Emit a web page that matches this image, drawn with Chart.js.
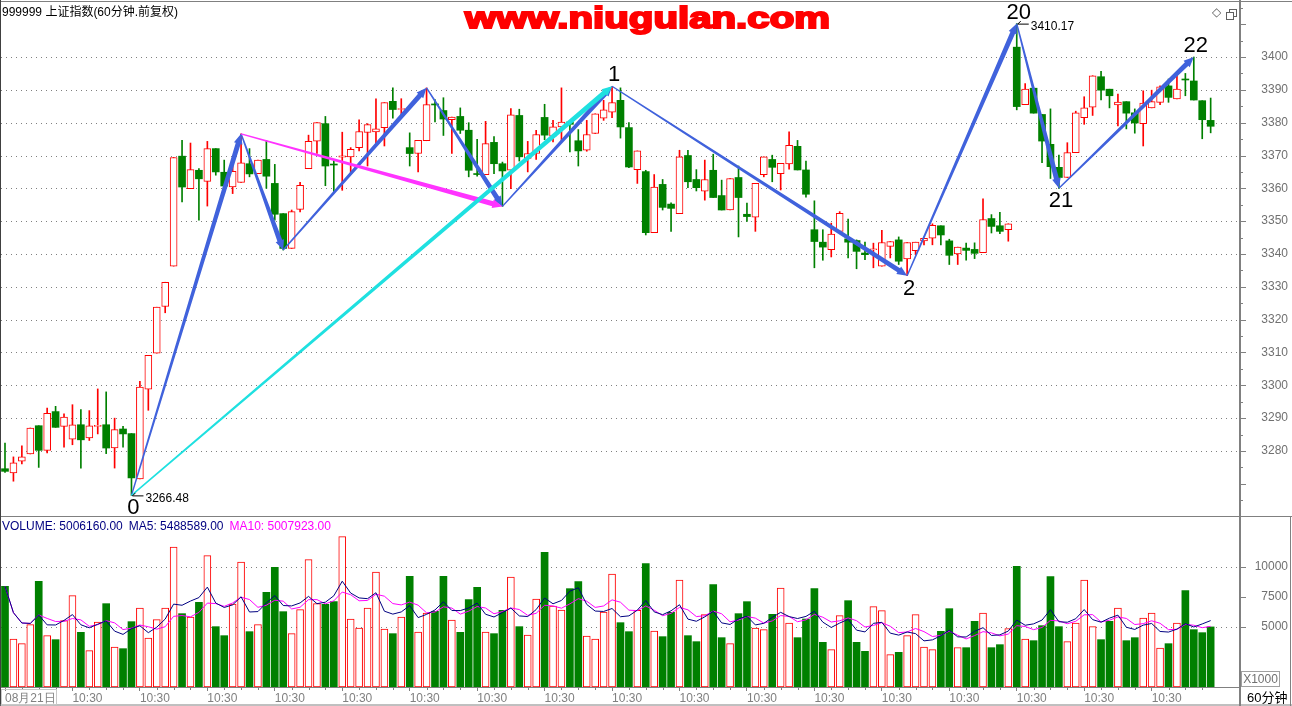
<!DOCTYPE html>
<html>
<head>
<meta charset="utf-8">
<title>上证指数 60分钟</title>
<script src="https://cdn.jsdelivr.net/npm/chart.js@4.4.1/dist/chart.umd.min.js"></script>
<style>
  body { margin: 0; background: #fff; font-family: 'Liberation Sans', Arial, 'Noto Sans CJK SC', sans-serif; }
  #page { position: relative; width: 1292px; height: 706px; overflow: hidden; background: #fff; }
  canvas { position: absolute; left: 0; }
  #price { top: 0; }
  #vol { top: 517px; }
  .txt { position: absolute; white-space: nowrap; }
  #title { left: 2px; top: 4px; font-size: 12px; line-height: 16px; color: #000; }
  #wm { left: 465px; top: 3px; font-size: 30px; line-height: 30px; font-weight: bold; color: #ff0000;
        -webkit-text-stroke: 2px #ff0000; transform-origin: 0 0; }
  #volHead { left: 2px; top: 519px; font-size: 12px; line-height: 14px; }
  #volHead span + span { margin-left: 6px; }
  #x1000 { left: 1241px; top: 671px; width: 37px; height: 14px; border: 1px solid #a0a0a0;
           font-size: 12px; line-height: 14px; color: #707070; text-align: center; }
  #period { left: 1247px; top: 690px; font-size: 13px; line-height: 15px; color: #000; }
  #dateBox { left: 1px; top: 689px; width: 54px; height: 14px; border: 1px solid #c8c8c8; }
  #icons { left: 1212px; top: 5px; font-size: 12px; line-height: 14px; color: #606060; font-family: 'DejaVu Sans', sans-serif; }
  .sq { position: absolute; width: 6px; height: 6px; border: 1px solid #606060; background: #fff; }
</style>
</head>
<body>
<div id="page">
  <canvas id="price" width="1292" height="517"></canvas>
  <canvas id="vol" width="1292" height="189"></canvas>
  <div id="title" class="txt">999999 上证指数(60分钟.前复权)</div>
  <div id="wm" class="txt">www.niugulan.com</div>
  <div id="icons" class="txt">◇</div>
  <div class="sq" style="left:1229px;top:9px"></div>
  <div class="sq" style="left:1226px;top:12px"></div>
  <div id="volHead" class="txt"><span style="color:#000080">VOLUME: 5006160.00</span><span style="color:#000080">MA5: 5488589.00</span><span style="color:#ff00ff">MA10: 5007923.00</span></div>
  <div id="x1000" class="txt">X1000</div>
  <div id="period" class="txt">60分钟</div>
  <div id="dateBox" class="txt"></div>
</div>
<script>
// 60-minute bars, 08-21 onwards
const openP = [
  3274.6, 3273.3, 3276.9, 3279.1, 3287.7, 3280.2, 3292.0, 3287.5, 3283.6, 3288.0,
  3284.0, 3287.5, 3288.0, 3280.9, 3286.7, 3285.3, 3271.5, 3298.8, 3309.8, 3324.0,
  3336.3, 3369.8, 3359.9, 3365.5, 3362.1, 3372.1, 3364.9, 3360.4, 3361.8, 3367.5,
  3364.5, 3368.8, 3361.5, 3352.3, 3341.7, 3353.6, 3366.0, 3374.4, 3379.7, 3367.3,
  3369.5, 3369.6, 3372.4, 3377.0, 3377.2, 3378.5, 3386.5, 3384.0, 3372.4, 3370.6,
  3374.5, 3385.6, 3383.7, 3380.9, 3381.9, 3377.7, 3364.4, 3364.2, 3374.0, 3367.5,
  3365.5, 3382.2, 3369.1, 3370.6, 3381.6, 3375.9, 3378.7, 3380.2, 3374.5, 3371.6,
  3376.7, 3381.4, 3383.2, 3386.8, 3378.5, 3365.7, 3365.1, 3346.5, 3361.2, 3355.2,
  3352.3, 3370.0, 3362.7, 3359.1, 3365.5, 3357.8, 3353.4, 3363.3, 3352.1, 3351.2,
  3364.2, 3368.8, 3364.5, 3367.4, 3372.8, 3365.6, 3347.4, 3343.6, 3341.3, 3346.9,
  3344.6, 3344.1, 3340.3, 3341.3, 3336.3, 3342.3, 3344.3, 3338.5, 3341.0, 3344.0,
  3344.8, 3348.6, 3344.0, 3340.0, 3341.8, 3341.4, 3340.4, 3350.8, 3348.6, 3347.4,
  3403.0, 3385.5, 3390.5, 3382.5, 3373.4, 3366.4, 3363.3, 3370.9, 3381.5, 3384.7,
  3394.0, 3390.2, 3385.4, 3386.4, 3383.0, 3379.7, 3384.5, 3386.2, 3391.2, 3387.2,
  3393.2, 3392.7, 3386.7, 3380.7
];
const highP = [
  3282.4, 3278.2, 3281.6, 3287.0, 3287.7, 3293.1, 3293.6, 3291.3, 3294.1, 3292.6,
  3292.3, 3298.9, 3298.0, 3290.0, 3287.5, 3285.3, 3301.2, 3309.1, 3323.8, 3331.4,
  3369.4, 3374.6, 3373.8, 3366.0, 3374.3, 3372.1, 3368.6, 3369.1, 3376.6, 3372.1,
  3368.6, 3374.6, 3367.3, 3352.3, 3353.4, 3361.8, 3376.2, 3380.0, 3381.9, 3368.8,
  3377.1, 3372.4, 3380.9, 3379.7, 3387.3, 3386.1, 3390.6, 3387.3, 3376.9, 3374.6,
  3390.6, 3387.0, 3387.6, 3381.7, 3384.5, 3380.0, 3374.9, 3380.4, 3375.8, 3368.0,
  3384.3, 3384.1, 3374.3, 3377.7, 3385.6, 3380.7, 3390.6, 3380.7, 3377.9, 3380.7,
  3382.7, 3386.8, 3391.1, 3390.6, 3380.0, 3371.4, 3365.5, 3364.2, 3362.7, 3355.6,
  3371.6, 3371.6, 3365.7, 3368.6, 3370.4, 3362.5, 3363.0, 3366.8, 3355.5, 3361.5,
  3369.6, 3370.1, 3367.6, 3377.2, 3374.6, 3368.3, 3356.2, 3347.4, 3349.4, 3352.9,
  3350.6, 3344.3, 3343.6, 3343.3, 3347.2, 3343.8, 3345.2, 3343.5, 3343.6, 3344.8,
  3349.2, 3348.6, 3344.5, 3342.1, 3343.3, 3343.4, 3356.8, 3352.0, 3352.7, 3349.2,
  3410.17, 3391.9, 3390.5, 3382.5, 3384.2, 3370.1, 3373.9, 3383.5, 3387.9, 3394.3,
  3395.6, 3390.2, 3388.7, 3386.4, 3384.2, 3389.7, 3389.9, 3391.2, 3393.3, 3394.8,
  3395.0, 3400.0, 3386.7, 3387.5
];
const lowP = [
  3273.5, 3270.8, 3276.1, 3279.1, 3275.0, 3279.4, 3287.2, 3281.2, 3281.9, 3274.8,
  3283.2, 3285.2, 3279.2, 3274.8, 3281.2, 3266.48, 3271.5, 3292.4, 3309.8, 3322.1,
  3336.3, 3355.9, 3359.9, 3350.3, 3354.6, 3364.0, 3358.4, 3358.4, 3361.8, 3363.5,
  3364.5, 3360.0, 3350.3, 3341.2, 3341.7, 3352.8, 3366.0, 3370.6, 3360.8, 3358.9,
  3359.4, 3364.8, 3371.4, 3366.8, 3373.4, 3372.9, 3381.4, 3382.2, 3366.8, 3365.0,
  3374.5, 3380.2, 3376.1, 3370.6, 3376.7, 3363.5, 3363.7, 3364.2, 3364.5, 3354.5,
  3359.9, 3368.3, 3365.0, 3368.8, 3374.8, 3374.1, 3374.1, 3371.1, 3366.8, 3371.3,
  3376.7, 3380.7, 3381.5, 3375.3, 3366.3, 3361.5, 3345.8, 3346.5, 3353.4, 3346.9,
  3352.3, 3360.2, 3359.2, 3356.4, 3357.2, 3353.4, 3353.4, 3345.2, 3349.9, 3346.9,
  3363.5, 3362.0, 3359.5, 3365.8, 3365.6, 3357.3, 3335.8, 3338.1, 3339.1, 3346.9,
  3338.8, 3335.5, 3338.3, 3335.8, 3336.3, 3338.8, 3336.8, 3333.4, 3339.8, 3342.8,
  3342.8, 3342.8, 3336.8, 3336.8, 3338.1, 3338.6, 3340.4, 3346.4, 3346.2, 3343.9,
  3383.9, 3385.5, 3382.9, 3367.8, 3363.0, 3360.0, 3363.3, 3370.9, 3379.5, 3382.2,
  3386.9, 3384.5, 3379.0, 3378.1, 3376.8, 3372.9, 3384.5, 3385.5, 3386.2, 3387.2,
  3388.2, 3386.9, 3375.1, 3376.9
];
const closeP = [
  3273.8, 3276.4, 3278.2, 3287.0, 3280.2, 3291.5, 3287.2, 3290.3, 3288.0, 3283.4,
  3287.7, 3287.7, 3280.9, 3286.5, 3285.2, 3271.8, 3299.5, 3309.1, 3323.8, 3331.4,
  3369.4, 3360.4, 3365.7, 3362.9, 3372.1, 3365.0, 3360.7, 3365.2, 3367.8, 3364.4,
  3368.6, 3363.7, 3352.1, 3341.7, 3352.9, 3360.9, 3374.3, 3380.0, 3366.8, 3367.1,
  3369.9, 3371.9, 3377.3, 3379.4, 3378.1, 3386.1, 3384.0, 3384.3, 3370.6, 3374.6,
  3385.5, 3385.4, 3381.1, 3381.7, 3377.7, 3365.5, 3364.2, 3373.6, 3367.5, 3365.3,
  3382.4, 3369.6, 3370.6, 3376.4, 3376.2, 3378.7, 3380.2, 3379.5, 3371.4, 3376.4,
  3382.7, 3383.9, 3386.1, 3378.7, 3366.5, 3371.4, 3346.5, 3360.4, 3354.2, 3353.9,
  3369.6, 3362.0, 3360.2, 3362.7, 3357.2, 3353.4, 3363.0, 3357.2, 3351.4, 3361.5,
  3369.6, 3366.4, 3367.6, 3373.1, 3365.6, 3358.2, 3343.8, 3342.1, 3346.1, 3352.4,
  3343.6, 3340.8, 3339.8, 3341.6, 3343.5, 3343.8, 3337.8, 3343.5, 3343.6, 3344.8,
  3348.7, 3345.8, 3339.6, 3342.1, 3341.1, 3340.2, 3350.5, 3348.4, 3346.9, 3349.2,
  3384.9, 3390.2, 3382.9, 3374.4, 3366.6, 3363.3, 3370.9, 3383.0, 3384.5, 3394.3,
  3389.9, 3388.2, 3386.3, 3382.9, 3379.9, 3386.0, 3386.4, 3390.9, 3387.7, 3390.2,
  3393.0, 3386.9, 3380.9, 3378.9
];
// volume in units of 1000
const volume = [
  8389, 4000, 3611, 5195, 8806, 4278, 3945, 5528, 7612, 4556,
  3028, 5417, 6945, 3334, 3195, 5445, 6584, 4084, 5612, 6584,
  11668, 6112, 5834, 7056, 10945, 5028, 4278, 6917, 10418, 4611,
  5195, 7890, 9973, 6278, 4445, 6445, 10612, 6945, 6889, 7112,
  12529, 5667, 4917, 6584, 9584, 4834, 4445, 5834, 9223, 4584,
  6167, 6306, 9223, 5584, 4556, 7278, 8306, 4584, 4445, 6389,
  9167, 5028, 4334, 7334, 11223, 6751, 6417, 8195, 8778, 4250,
  4000, 6251, 9417, 5361, 4611, 6389, 10279, 4667, 4195, 6223,
  8917, 4278, 3778, 6028, 8528, 4111, 3611, 6112, 7112, 4917,
  4778, 6056, 8251, 5334, 4111, 5667, 8195, 3722, 3111, 5945,
  7195, 3722, 2972, 6695, 6362, 2695, 2889, 4278, 6028, 3334,
  3111, 4639, 6528, 3278, 3278, 5473, 6167, 3278, 3528, 4862,
  10056, 4000, 3861, 5111, 9195, 5028, 3778, 5334, 8917, 5028,
  3945, 5473, 6584, 3861, 4111, 5750, 6167, 3250, 3611, 5334,
  8028, 4778, 4528, 5006
];

const xTickIdx = [0, 8, 16, 24, 32, 40, 48, 56, 64, 72, 80, 88, 96, 104, 112, 120, 128, 136];
const xTickText = ['08月21日', '10:30', '10:30', '10:30', '10:30', '10:30', '10:30', '10:30', '10:30',
                   '10:30', '10:30', '10:30', '10:30', '10:30', '10:30', '10:30', '10:30', '10:30'];
const priceTicks = [3280, 3290, 3300, 3310, 3320, 3330, 3340, 3350, 3360, 3370, 3380, 3390, 3400];
const volTicks = [5000, 7500, 10000];

// wave turning points drawn by hand on the original
const waveIdx   = [15, 28, 33, 50, 59, 72, 107, 120, 125, 141];
const wavePrice = [3266.48, 3376.6, 3341.2, 3390.6, 3354.5, 3391.1, 3333.4, 3410.17, 3360.0, 3400.0];
const waveName  = ['0', '', '', '', '', '1', '2', '20', '21', '22'];
const legFrom = [0, 1, 2, 3, 4, 7, 6, 5, 8, 1, 0];
const legTo   = [1, 2, 3, 4, 5, 8, 7, 6, 9, 4, 5];
const priceTags = [[0, '3266.48'], [7, '3410.17']];

const RED = '#ff0000', GREEN = '#008000', AXIS = '#808080', LABEL = '#707070';
const BLUE = '#4062dc', MAGENTA = '#ff33ff', CYAN = '#1fe0e0';
const legColor = [BLUE, BLUE, BLUE, BLUE, BLUE, BLUE, BLUE, BLUE, BLUE, MAGENTA, CYAN];

const XMIN = -0.4745, XMAX = 146.48;
const isUp = i => closeP[i] > openP[i];

function movingAverage(arr, n) {
  return arr.map((_, i) => {
    const s = arr.slice(Math.max(0, i - n + 1), i + 1);
    return s.reduce((a, b) => a + b, 0) / s.length;
  });
}
const ma5 = movingAverage(volume, 5);
const ma10 = movingAverage(volume, 10);

Chart.defaults.font.family = "'Liberation Sans', Arial, sans-serif";
Chart.defaults.font.size = 12;

function dotted(ctx, x0, x1, y) {
  ctx.save();
  ctx.strokeStyle = AXIS;
  ctx.lineWidth = 1;
  ctx.setLineDash([1, 4]);
  ctx.beginPath();
  ctx.moveTo(x0, y);
  ctx.lineTo(x1, y);
  ctx.stroke();
  ctx.restore();
}

function line(ctx, x0, y0, x1, y1, color, w) {
  ctx.save();
  ctx.strokeStyle = color;
  ctx.lineWidth = w || 1;
  ctx.beginPath();
  ctx.moveTo(x0, y0);
  ctx.lineTo(x1, y1);
  ctx.stroke();
  ctx.restore();
}

// right-hand value labels, right aligned against the window edge
function axisLabels(ctx, scale, values) {
  ctx.save();
  ctx.font = "12px 'Liberation Sans', Arial, sans-serif";
  ctx.fillStyle = LABEL;
  ctx.textAlign = 'right';
  ctx.textBaseline = 'middle';
  values.forEach(v => ctx.fillText(String(v), 1288, scale.getPixelForValue(v)));
  ctx.restore();
}

// arrow that widens towards its head, like the drawing tool in the original
function taperArrow(ctx, x0, y0, x1, y1, color) {
  const dx = x1 - x0, dy = y1 - y0, len = Math.hypot(dx, dy);
  const ux = dx / len, uy = dy / len, nx = -uy, ny = ux;
  const head = 10, hw = 4.4, w0 = 0.7, w1 = 2.5;
  const bx = x1 - ux * head, by = y1 - uy * head;
  ctx.save();
  ctx.fillStyle = color;
  ctx.beginPath();
  ctx.moveTo(x0 + nx * w0, y0 + ny * w0);
  ctx.lineTo(bx + nx * w1, by + ny * w1);
  ctx.lineTo(bx + nx * hw, by + ny * hw);
  ctx.lineTo(x1, y1);
  ctx.lineTo(bx - nx * hw, by - ny * hw);
  ctx.lineTo(bx - nx * w1, by - ny * w1);
  ctx.lineTo(x0 - nx * w0, y0 - ny * w0);
  ctx.closePath();
  ctx.fill();
  ctx.restore();
}

const priceDecor = {
  id: 'priceDecor',
  beforeDatasetsDraw(chart) {
    const {ctx, chartArea: a, scales: {y}} = chart;
    priceTicks.forEach(v => dotted(ctx, a.left, a.right, Math.round(y.getPixelForValue(v)) + 0.5));
  },
  afterDatasetsDraw(chart) {
    const {ctx, scales: {x, y}} = chart;
    const px = k => x.getPixelForValue(waveIdx[k]);
    const py = k => y.getPixelForValue(wavePrice[k]);
    legFrom.forEach((f, j) => taperArrow(ctx, px(f), py(f), px(legTo[j]), py(legTo[j]), legColor[j]));

    ctx.save();
    ctx.fillStyle = '#000';
    ctx.font = "22px 'Liberation Sans', Arial, sans-serif";
    ctx.textAlign = 'center';
    ctx.textBaseline = 'middle';
    waveName.forEach((name, k) => {
      if (!name) return;
      const peak = highP[waveIdx[k]] === wavePrice[k];
      ctx.fillText(name, px(k) + 2, py(k) + (peak ? -11 : 13));
    });
    ctx.font = "12px 'Liberation Sans', Arial, sans-serif";
    ctx.textAlign = 'left';
    priceTags.forEach(([k, txt]) => {
      const x0 = px(k), y0 = py(k);
      line(ctx, x0 + 1, y0 + 0.5, x0 + 12, y0 + 0.5, '#000', 1);
      line(ctx, x0 + 1, y0 + 0.5, x0 + 4, y0 - 2.5, '#000', 1);
      ctx.fillText(txt, x0 + 14, y0 + 3);
    });
    ctx.restore();
  },
  afterDraw(chart) {
    const {ctx, chartArea: a, scales: {y}} = chart;
    for (let v = 3265; v <= 3415; v += 5) {
      const yy = Math.round(y.getPixelForValue(v)) + 0.5;
      line(ctx, a.right + 1, yy, a.right + (v % 10 === 0 ? 6 : 3), yy, AXIS, 1);
    }
    axisLabels(ctx, y, priceTicks);
    line(ctx, 0, 1.5, 1292, 1.5, AXIS, 1);
    line(ctx, 0, 516.5, 1292, 516.5, AXIS, 1);
    line(ctx, 0.5, 0, 0.5, 517, '#404040', 1);
    line(ctx, a.right, 0, a.right, 517, AXIS, 2);
  }
};

const volDecor = {
  id: 'volDecor',
  beforeDatasetsDraw(chart) {
    const {ctx, chartArea: a, scales: {y}} = chart;
    [5000, 10000].forEach(v => dotted(ctx, a.left, a.right, Math.round(y.getPixelForValue(v)) + 0.5));
  },
  afterDraw(chart) {
    const {ctx, chartArea: a, scales: {x, y}} = chart;
    volTicks.forEach(v => {
      const yy = Math.round(y.getPixelForValue(v)) + 0.5;
      line(ctx, a.right + 1, yy, a.right + 6, yy, AXIS, 1);
    });
    axisLabels(ctx, y, volTicks);
    for (let i = 2; i < 146; i += 2) {
      if (i % 8 === 0) continue;
      const xx = Math.round(x.getPixelForValue(i)) + 0.5;
      line(ctx, xx, a.bottom + 1, xx, a.bottom + 3, AXIS, 1);
    }
    line(ctx, 0.5, 0, 0.5, 189, '#404040', 1);
    line(ctx, 0, 188, 1292, 188, AXIS, 1);
    line(ctx, 1290.5, 0, 1290.5, 189, AXIS, 1);
    line(ctx, a.right, 0, a.right, 189, AXIS, 2);
  }
};

new Chart(document.getElementById('price'), {
  type: 'bar',
  data: {
    datasets: [
      {
        label: 'body',
        data: openP.map((o, i) => ({x: i, y: [o, closeP[i]]})),
        grouped: false,
        barThickness: 7,
        minBarLength: 1,
        borderSkipped: false,
        backgroundColor: c => isUp(c.dataIndex) ? '#ffffff' : GREEN,
        borderColor: c => isUp(c.dataIndex) ? RED : GREEN,
        borderWidth: c => isUp(c.dataIndex) ? 1 : 0,
        order: 0
      },
      {
        label: 'shadow',
        data: lowP.map((l, i) => ({x: i, y: [l, highP[i]]})),
        grouped: false,
        barThickness: 1,
        backgroundColor: c => isUp(c.dataIndex) ? RED : GREEN,
        borderWidth: 0,
        order: 1
      }
    ]
  },
  options: {
    responsive: false,
    animation: false,
    events: [],
    layout: {padding: {left: 1, top: 3, right: 0, bottom: 1}},
    plugins: {legend: {display: false}, tooltip: {enabled: false}},
    scales: {
      x: {type: 'linear', min: XMIN, max: XMAX, offset: false, grid: {offset: false}, display: false},
      y: {
        position: 'right',
        min: 3260.2,
        max: 3416.45,
        offset: false,
        afterFit: s => { s.width = 52; },
        afterBuildTicks: s => { s.ticks = priceTicks.map(v => ({value: v})); },
        grid: {drawOnChartArea: false, drawTicks: false},
        border: {color: AXIS, width: 2},
        ticks: {display: false, padding: 0}
      }
    }
  },
  plugins: [priceDecor]
});

new Chart(document.getElementById('vol'), {
  type: 'bar',
  data: {
    datasets: [
      {
        type: 'line',
        label: 'MA5',
        data: ma5.map((v, i) => ({x: i, y: v})),
        borderColor: '#000080',
        borderWidth: 1,
        pointRadius: 0,
        order: -2
      },
      {
        type: 'line',
        label: 'MA10',
        data: ma10.map((v, i) => ({x: i, y: v})),
        borderColor: '#ff00ff',
        borderWidth: 1,
        pointRadius: 0,
        order: -1
      },
      {
        label: 'VOLUME',
        data: volume.map((v, i) => ({x: i, y: v})),
        grouped: false,
        barThickness: 7,
        borderSkipped: false,
        backgroundColor: c => isUp(c.dataIndex) ? '#ffffff' : GREEN,
        borderColor: c => isUp(c.dataIndex) ? RED : GREEN,
        borderWidth: c => isUp(c.dataIndex) ? 1 : 0,
        order: 0
      }
    ]
  },
  options: {
    responsive: false,
    animation: false,
    events: [],
    layout: {padding: {left: 1, top: 1, right: 0, bottom: 0}},
    plugins: {legend: {display: false}, tooltip: {enabled: false}},
    scales: {
      x: {
        type: 'linear',
        min: XMIN,
        max: XMAX,
        offset: false,
        position: 'bottom',
        afterFit: s => { s.height = 19; },
        afterBuildTicks: s => { s.ticks = xTickIdx.map(v => ({value: v})); },
        grid: {offset: false, drawOnChartArea: false, drawTicks: true, tickLength: 4, color: AXIS},
        border: {color: AXIS, width: 1},
        ticks: {
          autoSkip: false, maxRotation: 0, minRotation: 0, align: 'start', padding: 0, color: '#808080',
          callback: v => xTickText[xTickIdx.indexOf(v)]
        }
      },
      y: {
        position: 'right',
        min: 0,
        max: 14083,
        offset: false,
        afterFit: s => { s.width = 52; },
        afterBuildTicks: s => { s.ticks = volTicks.map(v => ({value: v})); },
        grid: {drawOnChartArea: false, drawTicks: false},
        border: {color: AXIS, width: 2},
        ticks: {display: false, padding: 0}
      }
    }
  },
  plugins: [volDecor]
});

// stretch the heavy watermark to the width it has in the original
const wm = document.getElementById('wm');
wm.style.transform = 'scaleX(' + (365 / wm.getBoundingClientRect().width) + ')';
</script>
</body>
</html>
